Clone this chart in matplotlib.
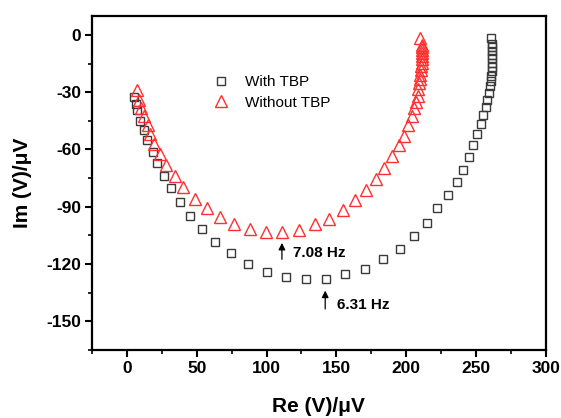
import matplotlib
matplotlib.use("Agg")
import matplotlib.pyplot as plt

plt.rcParams['font.family'] = ['Liberation Sans', 'DejaVu Sans']

# With TBP (black squares)
with_re = [5.2, 6.4, 7.1, 9.5, 11.9, 14.3, 18.4, 21.2, 26.2, 31.4, 37.9, 45.2, 54.1, 63.1,
           74.8, 86.6, 100.0, 113.6, 128.4, 142.9, 156.4, 170.7, 183.3, 195.7, 205.7,
           214.8, 221.9, 230.2, 236.2, 240.9, 245.2, 248.1, 250.9, 253.4, 255.2, 256.9,
           258.1, 259.0, 260.0, 260.5, 260.9, 261.2, 261.2, 261.4, 261.4, 261.4, 261.4,
           261.4, 261.4, 260.5]
with_im = [-32.6, -36.0, -39.4, -45.0, -50.0, -55.1, -61.3, -67.3, -73.8, -80.3, -87.5,
           -94.8, -101.9, -108.6, -114.5, -120.0, -124.2, -126.7, -128.1, -127.7, -125.5,
           -122.7, -117.6, -112.0, -105.3, -98.5, -90.9, -84.1, -76.9, -70.6, -63.9,
           -57.6, -52.1, -46.6, -41.9, -37.7, -34.0, -30.4, -26.7, -24.2, -21.6, -19.1,
           -16.6, -14.5, -12.3, -10.3, -8.4, -6.4, -4.7, -1.4]

# Without TBP (red triangles)
without_re = [6.9, 8.4, 10.0, 12.4, 14.8, 16.6, 19.5, 23.6, 27.9, 34.3, 40.5, 48.6, 57.1,
              66.6, 76.6, 88.0, 99.3, 111.2, 123.0, 134.5, 144.5, 154.5, 163.6, 171.4,
              178.6, 183.8, 189.8, 194.5, 198.1, 201.6, 204.1, 205.9, 207.1, 208.1, 208.8,
              209.5, 210.0, 210.2, 210.5, 210.7, 211.0, 211.2, 211.2, 211.2, 211.2, 211.2,
              211.2, 210.0]
without_im = [-28.7, -34.3, -38.2, -42.7, -47.0, -52.0, -57.0, -62.5, -68.0, -74.0, -79.4,
              -85.8, -90.9, -95.6, -99.0, -101.9, -103.0, -103.0, -102.4, -99.3, -96.3,
              -91.7, -86.7, -81.1, -75.7, -69.8, -63.5, -57.9, -52.9, -47.3, -42.7, -38.5,
              -35.1, -31.8, -28.4, -25.3, -23.0, -20.8, -18.2, -16.2, -14.5, -12.8, -11.2,
              -9.5, -7.8, -6.4, -5.1, -1.7]

x_ticks = [0, 50, 100, 150, 200, 250, 300]
y_ticks = [0, -30, -60, -90, -120, -150]

fig = plt.figure(figsize=(5.61, 4.18), dpi=100)
ax = fig.add_axes([0.164, 0.163, 0.809, 0.799])

ax.plot(with_re, with_im, linestyle='none', marker='s', markersize=6.3,
        markerfacecolor='none', markeredgecolor='#3a3a3a', markeredgewidth=1.0,
        label='With TBP')
ax.plot(without_re, without_im, linestyle='none', marker='^', markersize=9,
        markerfacecolor='none', markeredgecolor='#ff3030', markeredgewidth=1.0,
        label='Without TBP')

ax.set_xlim(-25, 300)
ax.set_ylim(-160, 10)
ax.set_xticks(x_ticks)
ax.set_yticks(y_ticks)
ax.set_xticks(range(-25, 301, 25), minor=True)
ax.set_yticks(range(-165, 11, 15), minor=True)
ax.set_xticklabels([str(v) for v in x_ticks], fontweight='bold', fontsize=12.5)
ax.set_yticklabels([str(v) for v in y_ticks], fontweight='bold', fontsize=12.5)
ax.tick_params(which='major', direction='out', length=5, width=1.5, top=False, right=False, pad=3)
ax.tick_params(which='minor', direction='out', length=3, width=1.2, top=False, right=False)
for s in ax.spines.values():
    s.set_linewidth(1.6)

ax.set_xlabel('Re (V)/\u03bcV', fontsize=15, fontweight='bold', labelpad=15)
ax.set_ylabel('Im (V)/\u03bcV', fontsize=15, fontweight='bold', labelpad=10)

leg = ax.legend(loc='upper left', bbox_to_anchor=(0.25, 0.84), frameon=False,
                fontsize=11, handletextpad=1.0, borderaxespad=0, labelspacing=0.4,
                handlelength=1.2)

ax.annotate('', xy=(111, -107.5), xytext=(111, -119),
            arrowprops=dict(arrowstyle='-|>', color='black', lw=0.9, mutation_scale=10))
ax.text(119, -114.5, '7.08 Hz', fontsize=11, fontweight='bold', va='center', ha='left')
ax.annotate('', xy=(142, -132.5), xytext=(142, -145),
            arrowprops=dict(arrowstyle='-|>', color='black', lw=0.9, mutation_scale=10))
ax.text(150.5, -141.3, '6.31 Hz', fontsize=11, fontweight='bold', va='center', ha='left')

fig.savefig('out.png', dpi=100)
